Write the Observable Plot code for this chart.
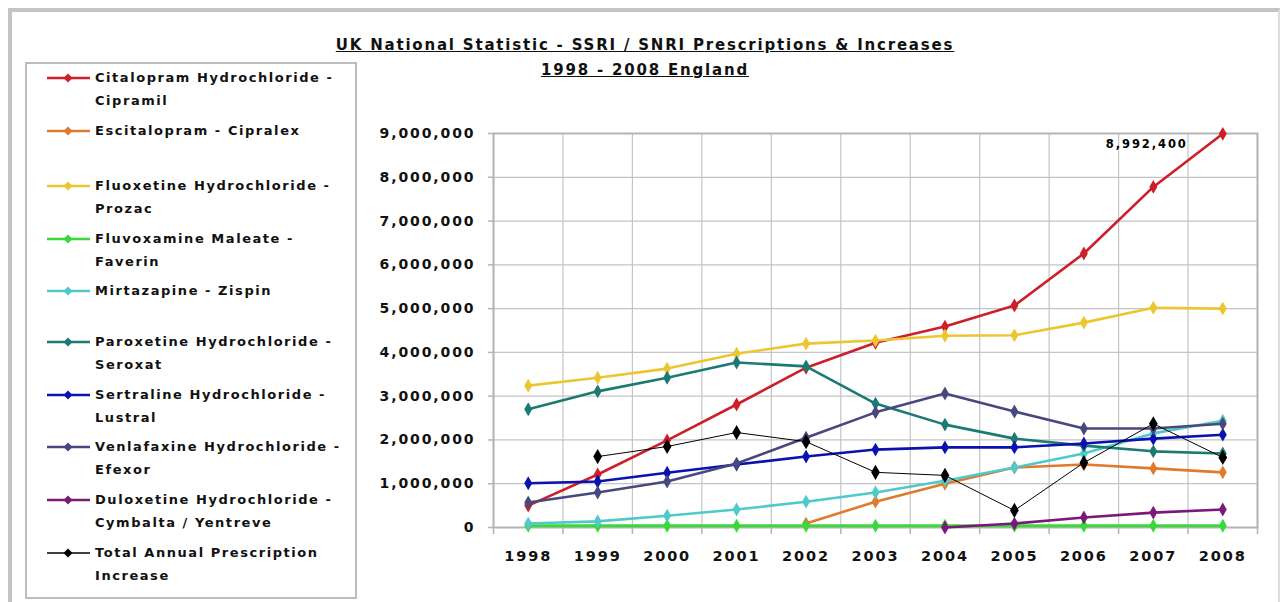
<!DOCTYPE html>
<html>
<head>
<meta charset="utf-8">
<script src="https://cdn.jsdelivr.net/npm/d3@7"></script>
<script src="https://cdn.jsdelivr.net/npm/@observablehq/plot@0.6"></script>
<style>
  html, body { margin: 0; padding: 0; background: #fff; }
  body { width: 1280px; height: 602px; position: relative; overflow: hidden;
         font-family: "DejaVu Sans", sans-serif; font-weight: bold; color: #111; }
  #frame { position: absolute; left: 8px; top: 8px; width: 1266px; height: 620px;
           border-left: 4px solid #c4c4c4; border-top: 4px solid #c4c4c4; border-right: 2px solid #dcdcdc; }
  .title { position: absolute; left: 0; width: 1290px; text-align: center; font-size: 15px;
           text-decoration: underline; letter-spacing: 1.8px; }
  #legend { position: absolute; left: 25px; top: 62px; width: 328px; height: 533px;
            border: 2px solid #bdbdbd; background: #fff; }
  .item { position: absolute; left: 18px; font-size: 13px; line-height: 23px; letter-spacing: 1.55px; }
  .item svg { position: absolute; left: 0; top: 6px; }
  .item .txt { position: absolute; left: 50px; top: 0; white-space: nowrap; }
  #chart { position: absolute; left: 360px; top: 110px; }
</style>
</head>
<body>
<div id="frame"></div>
<div class="title" style="top:36px">UK National Statistic - SSRI / SNRI Prescriptions &amp; Increases</div>
<div class="title" style="top:61px">1998 - 2008 England</div>
<div id="legend"></div>
<div id="chart"></div>
<script>
const years = [1998, 1999, 2000, 2001, 2002, 2003, 2004, 2005, 2006, 2007, 2008];

const seriesNames = [
  "Citalopram Hydrochloride - Cipramil",
  "Escitalopram - Cipralex",
  "Fluoxetine Hydrochloride - Prozac",
  "Fluvoxamine Maleate - Faverin",
  "Mirtazapine - Zispin",
  "Paroxetine Hydrochloride - Seroxat",
  "Sertraline Hydrochloride - Lustral",
  "Venlafaxine Hydrochloride - Efexor",
  "Duloxetine Hydrochloride - Cymbalta / Yentreve",
  "Total Annual Prescription Increase"
];

const legendLines = [
  ["Citalopram Hydrochloride -", "Cipramil"],
  ["Escitalopram - Cipralex"],
  ["Fluoxetine Hydrochloride -", "Prozac"],
  ["Fluvoxamine Maleate -", "Faverin"],
  ["Mirtazapine - Zispin"],
  ["Paroxetine Hydrochloride -", "Seroxat"],
  ["Sertraline Hydrochloride -", "Lustral"],
  ["Venlafaxine Hydrochloride -", "Efexor"],
  ["Duloxetine Hydrochloride -", "Cymbalta / Yentreve"],
  ["Total Annual Prescription", "Increase"]
];

const colors = ["#cc1f2a", "#e07a2c", "#ecc630", "#3ad83a", "#4fc9c9",
                "#1c7a74", "#0c12b0", "#48487e", "#7a1a78", "#000000"];

const citalopram   = [500000, 1210000, 1990000, 2810000, 3650000, 4220000, 4590000, 5070000, 6260000, 7780000, 8992400];
const escitalopram = [null, null, null, null, 90000, 590000, 1000000, 1370000, 1440000, 1350000, 1260000];
const fluoxetine   = [3240000, 3420000, 3630000, 3970000, 4200000, 4270000, 4380000, 4390000, 4680000, 5020000, 5000000];
const fluvoxamine  = [40000, 40000, 40000, 40000, 40000, 40000, 40000, 40000, 40000, 40000, 40000];
const mirtazapine  = [90000, 140000, 270000, 410000, 590000, 800000, 1070000, 1370000, 1690000, 2150000, 2440000];
const paroxetine   = [2700000, 3110000, 3420000, 3770000, 3680000, 2830000, 2350000, 2030000, 1870000, 1740000, 1690000];
const sertraline   = [1010000, 1050000, 1250000, 1440000, 1620000, 1780000, 1830000, 1830000, 1920000, 2030000, 2120000];
const venlafaxine  = [570000, 800000, 1050000, 1460000, 2050000, 2630000, 3060000, 2650000, 2260000, 2260000, 2370000];
const duloxetine   = [null, null, null, null, null, null, 0, 90000, 230000, 340000, 410000];
const totalIncrease = [null, 1620000, 1850000, 2170000, 1960000, 1260000, 1190000, 390000, 1480000, 2370000, 1600000];

const yTicks = [0, 1000000, 2000000, 3000000, 4000000, 5000000, 6000000, 7000000, 8000000, 9000000];

const seriesValues = [citalopram, escitalopram, fluoxetine, fluvoxamine, mirtazapine,
                      paroxetine, sertraline, venlafaxine, duloxetine, totalIncrease];

// long table
const rows = [];
seriesNames.forEach((name, i) => {
  years.forEach((yr, j) => {
    const v = seriesValues[i][j];
    if (v != null) rows.push({series: name, year: yr, value: v});
  });
});

// category boundaries (between years) for vertical gridlines
const boundaries = [years[0] - 0.5, ...years.map(y => y + 0.5)];

const colorScale = {domain: seriesNames, range: colors};

const seriesMarks = seriesNames.flatMap((name, i) => {
  const data = rows.filter(r => r.series === name);
  const isTotal = i === seriesNames.length - 1;
  return [
    Plot.line(data, {x: "year", y: "value", stroke: "series",
                     strokeWidth: isTotal ? 1 : (i === 3 ? 3.2 : 2.6)}),
    Plot.dot(data, {x: "year", y: "value", fill: "series", symbol: "diamond",
                    r: isTotal ? 4.6 : 4.2, stroke: "none"})
  ];
});

const last = rows.filter(r => r.series === seriesNames[0] && r.year === years[years.length - 1]);

const chart = Plot.plot({
  width: 910,
  height: 480,
  marginLeft: 133,
  marginRight: 13,
  marginTop: 23,
  marginBottom: 63,
  style: {fontFamily: "DejaVu Sans, sans-serif", fontSize: "13.5px", fontWeight: "bold",
          color: "#111", background: "transparent", letterSpacing: "1.9px", overflow: "visible"},
  x: {type: "linear", domain: [years[0] - 0.5, years[years.length - 1] + 0.5]},
  y: {domain: [0, 9000000]},
  color: colorScale,
  marks: [
    Plot.gridY(yTicks, {stroke: "#c4c4c4", strokeOpacity: 1, strokeWidth: 1.2}),
    Plot.gridX(boundaries, {stroke: "#c4c4c4", strokeOpacity: 1, strokeWidth: 1.2}),
    Plot.frame({stroke: "#b4b4b4", strokeWidth: 2}),
    Plot.axisX(boundaries, {tickSize: 7, stroke: "#b4b4b4", strokeWidth: 1.5, text: null, label: null}),
    Plot.axisX(years, {tickSize: 0, tickPadding: 23, tickFormat: d => String(d), label: null, fontSize: 14.5}),
    Plot.axisY(yTicks, {tickSize: 5, tickPadding: 13, stroke: "#b4b4b4", strokeWidth: 1.5,
                        tickFormat: d3.format(","), label: null, fontSize: 14}),
    ...seriesMarks,
    Plot.text(last, {x: "year", y: "value", text: d => d3.format(",")(d.value),
                     dx: -76, dy: 10, fontSize: 11.5, fill: "#000"})
  ]
});
document.getElementById("chart").appendChild(chart);

// legend
const legend = document.getElementById("legend");
const itemCenters = [77, 130, 185, 238, 290, 341, 394, 446, 499, 552];
seriesNames.forEach((name, i) => {
  const div = document.createElement("div");
  div.className = "item";
  div.style.top = (itemCenters[i] - 62 - 2 - 11.5) + "px";
  const sw = colors[i];
  const isTotal = i === seriesNames.length - 1;
  div.innerHTML =
    `<svg width="46" height="12"><line x1="2" x2="45" y1="6" y2="6" stroke="${sw}" stroke-width="${isTotal ? 1.3 : 2.4}"/>` +
    `<path d="M23,1.5 L27.5,6 L23,10.5 L18.5,6 Z" fill="${sw}"/></svg>` +
    `<div class="txt">${legendLines[i].join("<br>")}</div>`;
  legend.appendChild(div);
});
</script>
</body>
</html>
